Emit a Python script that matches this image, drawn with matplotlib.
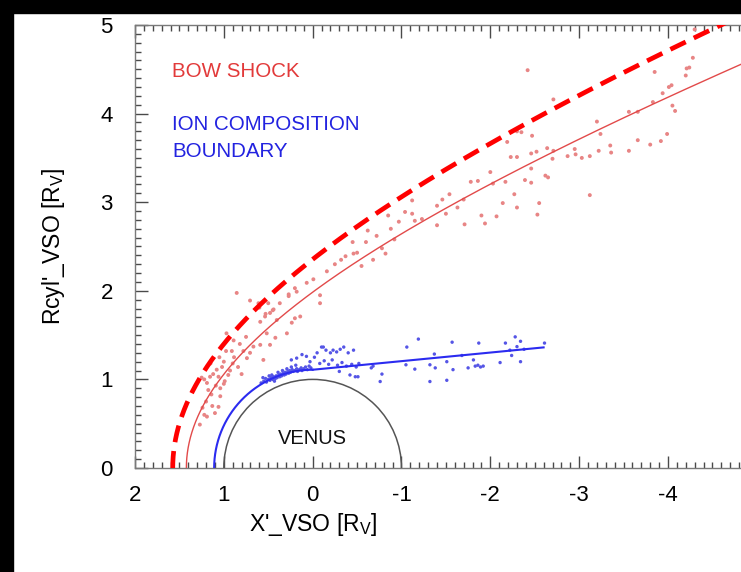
import numpy as np
import matplotlib
matplotlib.use("Agg")
import matplotlib.pyplot as plt
from matplotlib.patches import Rectangle, Arc
from matplotlib.ticker import MultipleLocator

plt.rcParams['font.family'] = ['Liberation Sans', 'DejaVu Sans']

# ---------------- data ----------------
# bow shock crossings (X', Rcyl')
bs_x = [1.27, 1.19, 1.06, 1.04, 1.20, 1.14, 1.175, 1.04, 0.99, 1.19, 1.22, 1.25, 1.155, 1.06,
        1.12, 1.08, 1.02, 0.84, 0.80, 0.90, 0.885, 0.975, 0.91, 0.74, 0.97, 0.89, 0.705, 0.667,
        0.59, 0.555, 0.517, 0.48, 0.42, 0.404, 0.44, 0.48, 0.536, 0.59, 0.61, 0.50, 0.29, 0.235,
        0.20, 0.27, 0.18, 0.705, 0.855, 0.60, 0.53, 0.45, 0.37, 0.27, 0.20, 0.14, 0.067, -0.008,
        -0.083, -0.083, -0.16, -0.25, -0.32, -0.37, -0.46, -0.50, -0.55, -0.82,
        1.13, 1.10, 1.22, 1.24, 1.00, 0.95, 1.09, 0.93, 1.15, 1.05, 1.00, 0.78, 0.82, 0.75,
        -0.60, -0.68, -0.72, -0.78, -0.88, -0.92, -0.97, -0.85, -0.62, -0.45,
        -1.04, -1.12, -1.12, -1.15, -1.23, -1.40, -1.40, -1.46, -1.50, -1.54, -1.63, -1.70,
        -1.71, -1.78, -1.86, -1.90, -1.94, -2.00, -2.03, -2.07, -2.14, -2.17, -2.19, -2.23,
        -2.27, -2.30, -2.30, -2.30, -2.35, -2.39, -2.46, -2.46, -2.46, -2.47, -2.52, -2.53,
        -2.55, -2.62, -2.65, -2.64, -2.70, -2.71, -2.87, -2.95, -2.96, -3.03, -3.12, -3.12,
        -3.20, -3.22, -3.24, -3.35, -3.36, -3.56, -3.56, -3.66, -3.66, -3.80, -3.83, -3.85,
        -3.92, -3.94, -3.99, -4.01, -4.04, -4.05, -4.08, -4.20, -4.21, -4.24, -4.28, -4.30,
        -2.42, -2.71]
bs_y = [0.49, 0.58, 0.69, 0.81, 0.75, 0.83, 0.88, 0.90, 0.98, 0.96, 1.00, 1.02, 1.03, 1.03,
        1.06, 1.11, 1.14, 1.14, 1.06, 1.18, 1.25, 1.32, 1.32, 1.24, 1.52, 1.44, 1.30, 1.37,
        1.39, 1.22, 1.52, 1.39, 1.47, 1.67, 1.79, 1.75, 1.71, 1.65, 1.86, 1.86, 1.52, 1.64,
        1.69, 1.96, 1.99, 1.89, 1.976, 1.81, 1.74, 1.78, 1.86, 1.94, 2.03, 1.71, 2.09, 2.13,
        1.95, 1.86, 2.22, 2.30, 2.35, 2.39, 2.42, 2.43, 2.28, 2.42,
        0.70, 0.62, 0.60, 0.68, 0.95, 1.05, 0.93, 1.10, 1.18, 1.25, 1.20, 1.32, 1.40, 1.48,
        2.55, 2.35, 2.62, 2.48, 2.70, 2.58, 2.78, 2.85, 2.68, 2.55,
        2.89, 2.87, 3.02, 2.79, 2.81, 2.96, 2.74, 3.03, 2.87, 3.09, 2.94, 3.03,
        2.75, 3.23, 3.24, 2.85, 2.76, 3.34, 3.21, 2.84, 2.99, 3.23, 3.68, 3.51,
        3.09, 2.94, 3.51, 3.80, 3.79, 3.25, 3.55, 3.38, 3.22, 3.75, 3.57, 2.86,
        2.99, 3.30, 3.28, 3.61, 3.49, 3.58, 3.52, 3.60, 3.54, 3.50, 3.08, 3.52,
        3.91, 3.58, 3.77, 3.64, 3.56, 3.58, 4.02, 3.70, 4.02, 3.65, 4.13, 4.47,
        3.69, 4.23, 3.77, 4.30, 4.32, 4.09, 4.03, 4.43, 4.51, 4.52, 4.63, 4.95,
        4.49, 4.16]

# ion composition boundary crossings (X', Rcyl')
icb_x = [0.58, 0.55, 0.52, 0.50, 0.48, 0.47, 0.45, 0.44, 0.42, 0.41, 0.40, 0.38, 0.37, 0.36,
         0.35, 0.33, 0.32, 0.31, 0.30, 0.28, 0.27, 0.26, 0.25, 0.23, 0.22, 0.20, 0.18, 0.17,
         0.15, 0.13, 0.12, 0.10, 0.08, 0.06, 0.04, 0.02, 0.46, 0.39, 0.34, 0.29, 0.24, 0.19,
         0.43, 0.53, 0.56, 0.49,
         0.24, 0.18, 0.07, 0.12, 0.03, -0.02, -0.05, -0.10, -0.12, -0.15, -0.20, -0.23, -0.27,
         -0.31, -0.35, -0.40, -0.46, -0.08, -0.13, -0.18, -0.22, -0.28, -0.33, -0.38, -0.44,
         -0.49, -0.52, -0.30, -0.42, -0.48, -0.51, -0.68, -0.66, -0.78, -0.76,
         -1.06, -1.19, -1.05, -1.15, -1.32, -1.38, -1.32, -1.37, -1.51, -1.51, -1.57, -1.58,
         -1.68, -1.75, -1.81, -1.83, -1.87, -1.86, -1.89, -1.92, -2.11, -2.17, -2.22, -2.24,
         -2.28, -2.30, -2.34, -2.34, -2.38, -2.61]
icb_y = [0.96, 0.98, 0.97, 1.00, 0.99, 1.02, 1.00, 1.03, 1.01, 1.04, 1.02, 1.05, 1.03, 1.06,
         1.04, 1.07, 1.05, 1.08, 1.06, 1.09, 1.07, 1.10, 1.08, 1.11, 1.09, 1.10, 1.12, 1.09,
         1.11, 1.13, 1.10, 1.12, 1.14, 1.11, 1.15, 1.13, 1.05, 1.08, 1.10, 1.12, 1.14, 1.16,
         0.98, 1.01, 1.02, 1.04,
         1.22, 1.24, 1.26, 1.28, 1.20, 1.25, 1.30, 1.365, 1.365, 1.33, 1.30, 1.33, 1.31,
         1.34, 1.365, 1.30, 1.33, 1.18, 1.21, 1.17, 1.22, 1.16, 1.19, 1.15, 1.17,
         1.14, 1.18, 1.09, 1.05, 1.03, 1.03, 1.15, 1.13, 1.06, 0.976,
         1.365, 1.455, 1.165, 1.116, 1.165, 1.13, 0.976, 1.286, 1.20, 0.99, 1.42, 1.11,
         1.27, 1.13, 1.22, 1.15, 1.41, 1.16, 1.14, 1.15, 1.19, 1.41, 1.33, 1.27,
         1.48, 1.37, 1.43, 1.20, 1.34, 1.41]

# boundary models: conic (L, eps, x0) and ICB (dayside radius, nightside slope, end)
bs_fit = (1.303, 1.056, 0.788)
bs_outer = (1.67, 1.056, 0.763)
icb_radius = 1.109
icb_slope = -0.097
icb_xend = -2.6
venus_radius = 1.0

x_ticks = [2, 1, 0, -1, -2, -3, -4]
y_ticks = [0, 1, 2, 3, 4, 5]

# ---------------- figure ----------------
fig = plt.figure(figsize=(7.41, 5.72), dpi=100)
fig.patch.set_facecolor('white')
ax = fig.add_axes([135 / 741, (572 - 468) / 572, 7 * 88.83 / 741, 443 / 572])
ax.set_xlim(2, -5)
ax.set_ylim(0, 5)


def conic(params):
    L, e, x0 = params
    th = np.linspace(0, np.radians(160), 800)
    r = L / (1 + e * np.cos(th))
    return x0 + r * np.cos(th), r * np.sin(th)


# data points
ax.scatter(bs_x, bs_y, s=8, color='#e88585', edgecolors='none', zorder=2)
ax.scatter(icb_x, icb_y, s=6, color='#5555e6', edgecolors='none', zorder=2)

# bow shock curves
xs, ys = conic(bs_fit)
ax.plot(xs, ys, color='#e24a4a', lw=1.0, zorder=3)
xd, yd = conic(bs_outer)
ax.plot(xd, yd, color='#ff0000', lw=3.4, linestyle=(0, (3.6, 1.9)), zorder=3,
        solid_capstyle='butt', dash_capstyle='butt')

# ICB curve
th = np.linspace(0, np.pi / 2, 200)
ax.plot(icb_radius * np.cos(th), icb_radius * np.sin(th), color='#2b2bf0', lw=1.5, zorder=3)
xl = np.array([0.0, icb_xend])
ax.plot(xl, icb_radius + icb_slope * xl, color='#2b2bf0', lw=1.5, zorder=3)

# Venus
ax.add_patch(Arc((0, 0), 2 * venus_radius, 2 * venus_radius, theta1=0, theta2=180,
                 color='#555555', lw=1.1, zorder=3))
ax.text(0, 0.33, 'VENUS', ha='center', va='center', fontsize=14.5, color='#111111')

ax.text(1.58, 4.48, 'BOW SHOCK', color='#e23a3a', fontsize=14.8, ha='left', va='center')
ax.text(1.58, 3.88, 'ION COMPOSITION', color='#2323e0', fontsize=14.8, ha='left', va='center')
ax.text(1.58, 3.57, 'BOUNDARY', color='#2323e0', fontsize=14.8, ha='left', va='center')

# axes styling
for s in ax.spines.values():
    s.set_color('#7a7a7a')
    s.set_linewidth(1.0)
ax.set_xticks(x_ticks)
ax.set_xticklabels([str(v) for v in x_ticks])
ax.set_yticks(y_ticks)
ax.set_yticklabels([str(v) for v in y_ticks])
ax.xaxis.set_minor_locator(MultipleLocator(0.1))
ax.yaxis.set_minor_locator(MultipleLocator(0.1))
ax.tick_params(which='both', direction='in', top=True, right=True, bottom=True, left=True,
               color='#4a4a4a', width=1.0)
ax.tick_params(which='major', length=9)
ax.tick_params(which='minor', length=4)
ax.tick_params(axis='x', which='major', labelsize=16, pad=12)
ax.tick_params(axis='y', which='major', labelsize=16, pad=16)
ax.set_xlabel(r"X'_VSO [R$_\mathregular{V}$]", fontsize=16.5)
ax.xaxis.set_label_coords(2 / 7, -0.097, transform=ax.transAxes)
ax.set_ylabel(r"Rcyl'_VSO [R$_\mathregular{V}$]", fontsize=16.5)
ax.yaxis.set_label_coords(-0.11, 0.5, transform=ax.transAxes)

# black frame strips
fig.patches.append(Rectangle((0, 1 - 13 / 572), 1, 13 / 572, transform=fig.transFigure,
                             color='black', zorder=10))
fig.patches.append(Rectangle((0, 0), 13 / 741, 1, transform=fig.transFigure,
                             color='black', zorder=10))

fig.savefig('out.png', dpi=100, facecolor='white')
